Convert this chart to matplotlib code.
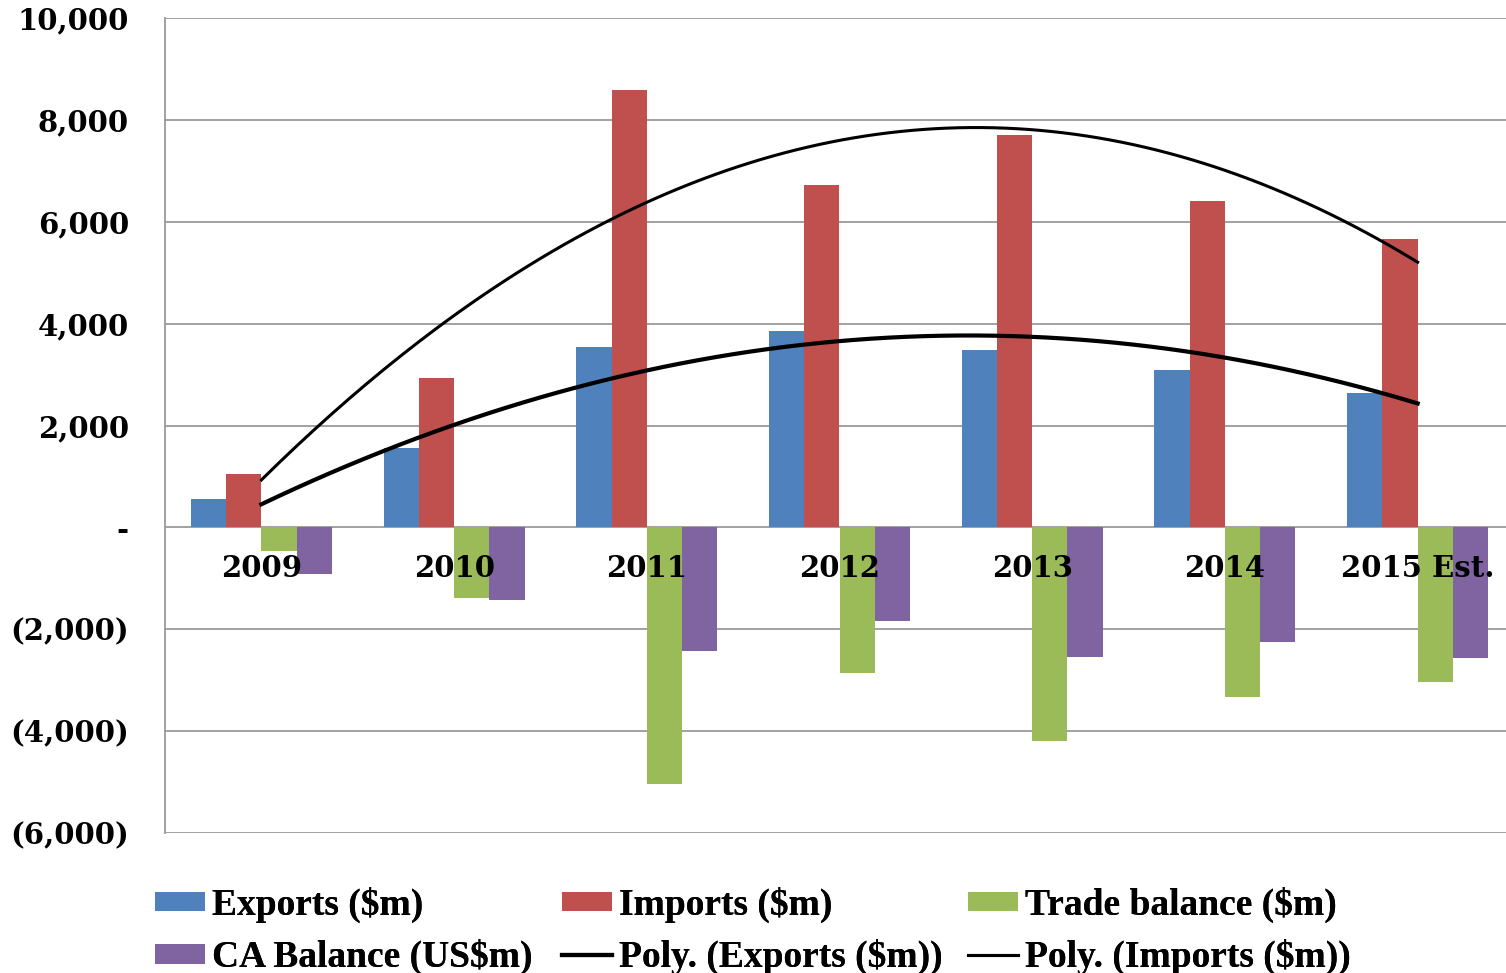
import matplotlib.pyplot as plt
import numpy as np

years = ['2009', '2010', '2011', '2012', '2013', '2014', '2015 Est.']
exports = [550, 1550, 3550, 3860, 3490, 3080, 2630]
imports = [1040, 2940, 8590, 6730, 7710, 6410, 5670]
trade_balance = [-470, -1390, -5040, -2860, -4200, -3330, -3040]
ca_balance = [-920, -1430, -2430, -1840, -2550, -2250, -2570]

tick_vals = [10000, 8000, 6000, 4000, 2000, 0, -2000, -4000, -6000]


def fmt(v):
    if v == 0:
        return '-'
    if v < 0:
        return '({:,})'.format(-v)
    return '{:,}'.format(v)


fig = plt.figure(figsize=(15.06, 9.73), dpi=100)
# plot area runs a few pixels past the right edge, as in the source
ax = fig.add_axes([165 / 1506, 1 - 833 / 973, (1514 - 165) / 1506, (833 - 18) / 973])

x = np.arange(len(years))
w = 0.183
series = [
    (exports, '#4F81BD', 'Exports ($m)'),
    (imports, '#C0504D', 'Imports ($m)'),
    (trade_balance, '#9BBB59', 'Trade balance ($m)'),
    (ca_balance, '#8064A2', 'CA Balance (US$m)'),
]
bars = []
for i, (vals, col, lab) in enumerate(series):
    b = ax.bar(x + (i - 1.5) * w, vals, w, color=col, label=lab, zorder=2)
    bars.append(b)

# polynomial (order 2) trendlines like Excel
xs = np.linspace(0, len(years) - 1, 200)
pe = np.polyfit(x, exports, 2)
pi = np.polyfit(x, imports, 2)
le, = ax.plot(xs, np.polyval(pe, xs), color='black', lw=3, zorder=3,
              label='Poly. (Exports ($m))')
li, = ax.plot(xs, np.polyval(pi, xs), color='black', lw=2.2, zorder=3,
              label='Poly. (Imports ($m))')

ax.set_xlim(-0.5, len(years) - 0.5)
ax.set_ylim(-6000, 10000)
ax.set_yticks(tick_vals)
ax.set_yticklabels([fmt(v) for v in tick_vals], family='DejaVu Serif',
                   fontweight='bold', fontsize=21)
ax.tick_params(axis='y', length=0, pad=26)
ax.set_xticks([])
ax.grid(axis='y', color='#9a9a9a', lw=1.3, zorder=0)
for s in ['top', 'right', 'bottom']:
    ax.spines[s].set_visible(False)
ax.spines['left'].set_color('#9a9a9a')
ax.spines['left'].set_linewidth(1.3)

for xi, yr in zip(x, years):
    ax.text(xi, -800, yr, ha='center', va='center', family='DejaVu Serif',
            fontweight='bold', fontsize=21, zorder=5)

# legend: three columns placed at fixed x positions
cols = [(bars[0], bars[3]), (bars[1], le), (bars[2], li)]
col_x = [155, 562, 968]
for (h1, h2), cx in zip(cols, col_x):
    leg = fig.legend([h1, h2], [h1.get_label(), h2.get_label()],
                     loc='center left', bbox_to_anchor=(cx / 1506, 1 - 931 / 973),
                     frameon=False, borderpad=0, borderaxespad=0,
                     prop={'family': 'Liberation Serif', 'weight': 'bold', 'size': 27},
                     handlelength=1.33, handletextpad=0.18, labelspacing=0.43,
                     handleheight=0.43)
    fig.add_artist(leg)

plt.savefig('out.png', dpi=100)
